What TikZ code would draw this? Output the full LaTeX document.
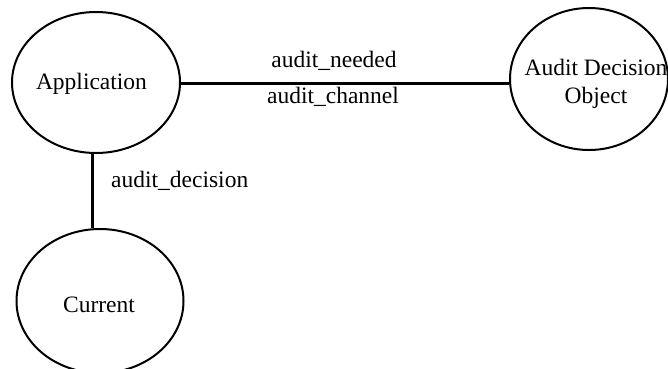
\documentclass[tikz,border=0pt]{standalone}
\usepackage{fontspec}
\setmainfont{Liberation Serif}
\usetikzlibrary{shapes.geometric}
\begin{document}
\begin{tikzpicture}[x=1pt,y=-1pt,
  bubble/.style={draw,ellipse,line width=2pt,inner sep=0pt},
  conn/.style={line width=3pt},
  lbl/.style={inner sep=0pt,font=\fontsize{23.5}{28}\selectfont}]
\useasboundingbox (0,0) rectangle (668,368);
\clip (0,0) rectangle (668,368);
\node[bubble,minimum width=168pt,minimum height=141pt] (app) at (96,82.5) {};
\node[bubble,minimum width=158pt,minimum height=142pt] (ado) at (589,79) {};
\node[bubble,minimum width=167pt,minimum height=144pt] (cur) at (100,301) {};
\node[lbl,anchor=base] (tapp) at (91.5,89) {Application};
\node[lbl,anchor=center,align=center] (tado) at (596,83.5) {Audit Decision\\Object};
\node[lbl,anchor=base] (tcur) at (99,312) {Current};
\coordinate (hy) at (0,83);
\coordinate (vx) at (92,0);
\draw[conn] (app.east |- hy) -- (ado.west |- hy);
\draw[conn] (app.south -| vx) -- (cur.north -| vx);
\node[lbl,anchor=base] (need) at (334,67) {audit\_needed};
\node[lbl,anchor=base] (chan) at (333,103) {audit\_channel};
\node[lbl,anchor=base west] (dec) at (111,187) {audit\_decision};
\end{tikzpicture}
\end{document}
